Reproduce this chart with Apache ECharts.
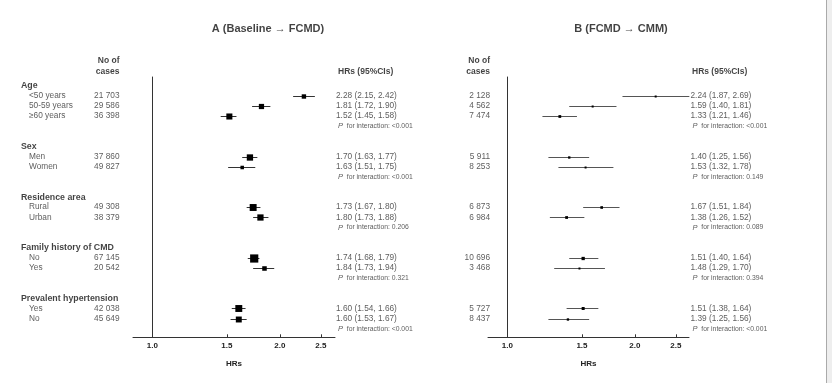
<!DOCTYPE html>
<html><head><meta charset="utf-8">
<script src="https://cdn.jsdelivr.net/npm/echarts@6/dist/echarts.min.js"></script>
<style>html,body{margin:0;padding:0;background:#fff}#c{width:832px;height:383px}</style>
</head><body><div id="c"></div>
<script>
// ---------------- DATA ----------------
const titles = ['A (Baseline \u2192 FCMD)', 'B (FCMD \u2192 CMM)'];
const groups = ['Age', 'Sex', 'Residence area', 'Family history of CMD', 'Prevalent hypertension'];
const groupSizes = [3, 2, 2, 2, 2];
const subgroups = ['<50 years', '50-59 years', '\u226560 years', 'Men', 'Women', 'Rural', 'Urban', 'No', 'Yes', 'Yes', 'No'];

const casesA = [21703, 29586, 36398, 37860, 49827, 49308, 38379, 67145, 20542, 42038, 45649];
const hrA = [2.28, 1.81, 1.52, 1.70, 1.63, 1.73, 1.80, 1.74, 1.84, 1.60, 1.60];
const loA = [2.15, 1.72, 1.45, 1.63, 1.51, 1.67, 1.73, 1.68, 1.73, 1.54, 1.53];
const hiA = [2.42, 1.90, 1.58, 1.77, 1.75, 1.80, 1.88, 1.79, 1.94, 1.66, 1.67];
const pA = ['<0.001', '<0.001', '0.206', '0.321', '<0.001'];

const casesB = [2128, 4562, 7474, 5911, 8253, 6873, 6984, 10696, 3468, 5727, 8437];
const hrB = [2.24, 1.59, 1.33, 1.40, 1.53, 1.67, 1.38, 1.51, 1.48, 1.51, 1.39];
const loB = [1.87, 1.40, 1.21, 1.25, 1.32, 1.51, 1.26, 1.40, 1.29, 1.38, 1.25];
const hiB = [2.69, 1.81, 1.46, 1.56, 1.78, 1.84, 1.52, 1.64, 1.70, 1.64, 1.56];
const pB = ['<0.001', '0.149', '0.089', '0.394', '<0.001'];

const tickValues = [1.0, 1.5, 2.0, 2.5];
const axisName = 'HRs';
const casesHeader = ['No of', 'cases'];
const hrHeader = 'HRs (95%CIs)';

// ---------------- LAYOUT ----------------
const FONT = "'Liberation Sans', Arial, sans-serif";
const W = 832, H = 383;
const ROW0 = 85.7, ROWH = 10.125;
const PLOT_TOP = 77, PLOT_BOTTOM = 337.3;
const slotOf = y => (y - ROW0) / ROWH;

const headerSlot = [], rowSlot = [], pSlot = [];
(function () {
  let s = 0;
  groups.forEach((g, i) => {
    headerSlot.push(s);
    for (let k = 0; k < groupSizes[i]; k++) rowSlot.push(s + 1 + k);
    pSlot.push(s + groupSizes[i] + 1);
    s += groupSizes[i] + 3;
  });
})();

const fmtCases = n => String(n).replace(/\B(?=(\d{3})+(?!\d))/g, ' ');
const fmtHR = (h, l, u) => `${h.toFixed(2)} (${l.toFixed(2)}, ${u.toFixed(2)})`;

const panels = [
  { grid: { left: 133, width: 202 }, range: [0.90, 2.70], cases: casesA, hr: hrA, lo: loA, hi: hiA, p: pA,
    titleX: 268, casesX: 119.5, hrX: 336, pX: 338, hrHeadX: 338, ciColor: '#333' },
  { grid: { left: 488, width: 201 }, range: [0.90, 2.685], cases: casesB, hr: hrB, lo: loB, hi: hiB, p: pB,
    titleX: 621, casesX: 490, hrX: 690.5, pX: 692.5, hrHeadX: 692, ciColor: '#555' }
];

const grids = [], xAxes = [], yAxes = [], series = [];

panels.forEach((P, i) => {
  grids.push({ left: P.grid.left, width: P.grid.width, top: PLOT_TOP, height: PLOT_BOTTOM - PLOT_TOP });
  xAxes.push({
    type: 'value', gridIndex: i,
    min: Math.log(P.range[0]), max: Math.log(P.range[1]),
    axisLine: { show: true, onZero: false, lineStyle: { color: '#333', width: 1 } },
    axisTick: { show: true, inside: true, length: 3, lineStyle: { color: '#333' },
      customValues: tickValues.map(v => Math.log(v)) },
    axisLabel: { show: true, margin: 4, fontSize: 8, fontWeight: 'bold', color: '#222', fontFamily: FONT,
      customValues: tickValues.map(v => Math.log(v)),
      formatter: v => Math.exp(v).toFixed(1) },
    splitLine: { show: false },
    name: axisName, nameLocation: 'middle', nameGap: 22,
    nameTextStyle: { fontSize: 8, fontWeight: 'bold', color: '#222', fontFamily: FONT }
  });
  yAxes.push({
    type: 'value', gridIndex: i, inverse: true,
    min: slotOf(PLOT_TOP), max: slotOf(PLOT_BOTTOM),
    axisLine: { show: true, onZero: true, lineStyle: { color: '#333', width: 1 } },
    axisTick: { show: false }, axisLabel: { show: false }, splitLine: { show: false }
  });
  const data = P.hr.map((h, k) => {
    const w = Math.log(P.hi[k]) - Math.log(P.lo[k]);
    const size = Math.max(2, 0.52 / w);
    return [Math.log(P.lo[k]), Math.log(P.hi[k]), Math.log(h), rowSlot[k], size];
  });
  series.push({
    type: 'custom', xAxisIndex: i, yAxisIndex: i, silent: true, clip: false,
    encode: { x: [0, 1, 2], y: 3 },
    data: data,
    renderItem: (params, api) => {
      const a = api.coord([api.value(0), api.value(3)]);
      const b = api.coord([api.value(1), api.value(3)]);
      const c = api.coord([api.value(2), api.value(3)]);
      const sz = api.value(4);
      const y = Math.round(c[1]) + 0.5;
      return { type: 'group', children: [
        { type: 'line', shape: { x1: a[0], y1: y, x2: b[0], y2: y }, style: { stroke: P.ciColor, lineWidth: 1 } },
        { type: 'rect', shape: { x: c[0] - sz / 2, y: y - sz / 2, width: sz, height: sz }, style: { fill: '#000' } }
      ] };
    }
  });
});

// text grid covering the whole canvas
const TG = 2;
grids.push({ left: 0, top: 0, width: W, height: H });
xAxes.push({ type: 'value', gridIndex: TG, min: 0, max: W, show: false });
yAxes.push({ type: 'value', gridIndex: TG, min: slotOf(0), max: slotOf(H), inverse: true, show: false });

function textSeries(points, style, align) {
  return {
    type: 'scatter', xAxisIndex: TG, yAxisIndex: TG, silent: true, clip: false,
    symbolSize: 1, itemStyle: { color: 'rgba(0,0,0,0)' },
    data: points,
    label: Object.assign({
      show: true, position: 'inside', align: align, verticalAlign: 'middle',
      fontFamily: FONT, formatter: p => p.data[2]
    }, style),
    z: 5
  };
}

const titleStyle = { fontSize: 11, fontWeight: 'bold', color: '#111' };
const headStyle = { fontSize: 8.5, fontWeight: 'bold', color: '#111' };
const grpStyle = { fontSize: 8.8, fontWeight: 'bold', color: '#111' };
const txtStyle = { fontSize: 8.3, color: '#333' };
const pStyle = { fontSize: 6.8, color: '#333', rich: { i: { fontStyle: 'italic', fontSize: 7.5, color: '#333', fontFamily: FONT } } };

// titles
series.push(textSeries(panels.map(P => [P.titleX, slotOf(29.3), ''])
  .map((d, i) => [d[0], d[1], titles[i]]), titleStyle, 'center'));
// group headers and subgroup labels (panel A only)
series.push(textSeries(groups.map((g, i) => [21, headerSlot[i], g]), grpStyle, 'left'));
series.push(textSeries(subgroups.map((s, k) => [29, rowSlot[k], s]), txtStyle, 'left'));

panels.forEach(P => {
  series.push(textSeries([[P.casesX, slotOf(61), casesHeader[0]], [P.casesX, slotOf(72), casesHeader[1]]], headStyle, 'right'));
  series.push(textSeries([[P.hrHeadX, slotOf(72), hrHeader]], headStyle, 'left'));
  series.push(textSeries(P.cases.map((n, k) => [P.casesX, rowSlot[k], fmtCases(n)]), txtStyle, 'right'));
  series.push(textSeries(P.hr.map((h, k) => [P.hrX, rowSlot[k], fmtHR(h, P.lo[k], P.hi[k])]), txtStyle, 'left'));
  series.push(textSeries(P.p.map((v, g) => [P.pX, pSlot[g], '{i|P}  for interaction: ' + v]), pStyle, 'left'));
});

const chart = echarts.init(document.getElementById('c'), null, { renderer: 'canvas' });
chart.setOption({
  animation: false,
  backgroundColor: '#fff',
  grid: grids, xAxis: xAxes, yAxis: yAxes, series: series,
  graphic: [
    { type: 'rect', shape: { x: 827, y: 0, width: 5, height: H }, style: { fill: '#eeeeee' }, silent: true },
    { type: 'line', shape: { x1: 826.5, y1: 0, x2: 826.5, y2: H }, style: { stroke: '#aaa', lineWidth: 1 }, silent: true }
  ]
});
</script>
</body></html>
